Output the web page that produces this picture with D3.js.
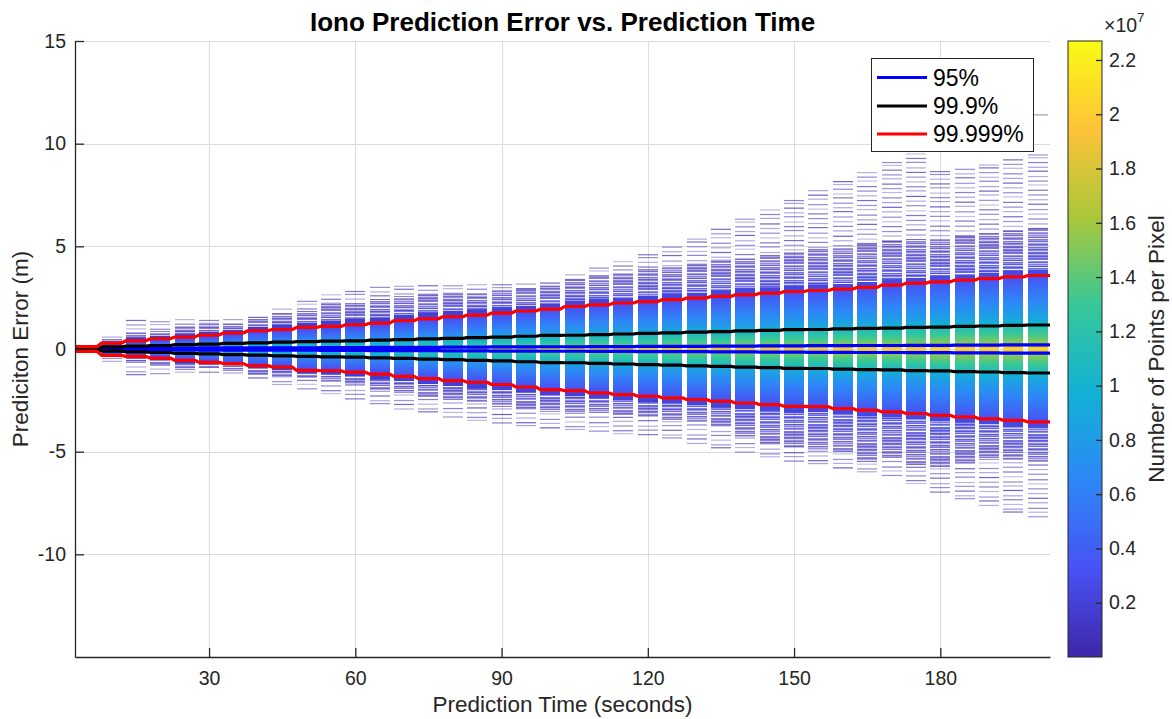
<!DOCTYPE html>
<html>
<head>
<meta charset="utf-8">
<script src="https://cdn.jsdelivr.net/npm/d3@7/dist/d3.min.js"></script>
<style>
  body { margin: 0; background: #fff; }
  svg text { font-family: "Liberation Sans", Arial, Helvetica, sans-serif; }
</style>
</head>
<body>
<script>
// prediction time bins (seconds)
const times = [5,10,15,20,25,30,35,40,45,50, 55,60,65,70,75,80,85,90,95,100,
               105,110,115,120,125,130,135,140,145,150, 155,160,165,170,175,180,185,190,195,200];

// percentile envelopes (m)
const p95 = [0.02,0.03,0.03,0.04,0.04,0.05,0.05,0.05,0.06,0.06, 0.07,0.07,0.08,0.08,0.08,0.09,0.09,0.10,0.10,0.11,
             0.11,0.12,0.12,0.13,0.13,0.13,0.14,0.14,0.15,0.15, 0.16,0.16,0.17,0.17,0.18,0.18,0.19,0.19,0.20,0.20];
const p999 = [0.05,0.10,0.14,0.17,0.21,0.24,0.27,0.30,0.33,0.36, 0.38,0.40,0.43,0.46,0.49,0.52,0.55,0.58,0.62,0.66,
              0.67,0.70,0.73,0.76,0.79,0.82,0.85,0.88,0.91,0.94, 0.95,0.98,1.00,1.02,1.05,1.07,1.10,1.12,1.15,1.17];
const p99999Up = [0.12,0.29,0.40,0.50,0.58,0.68,0.78,0.89,0.95,1.05, 1.10,1.18,1.26,1.38,1.47,1.57,1.65,1.75,1.85,1.94,
                  2.07,2.15,2.24,2.31,2.40,2.48,2.56,2.64,2.72,2.80, 2.85,2.92,3.00,3.11,3.21,3.27,3.35,3.43,3.51,3.58];
const p99999Lo = [-0.12,-0.31,-0.36,-0.44,-0.55,-0.65,-0.71,-0.81,-0.88,-1.04, -1.06,-1.13,-1.22,-1.33,-1.44,-1.54,-1.62,-1.73,-1.85,-1.98,
                  -2.03,-2.14,-2.22,-2.30,-2.38,-2.46,-2.54,-2.63,-2.71,-2.79, -2.81,-2.90,-2.98,-3.06,-3.14,-3.23,-3.31,-3.40,-3.48,-3.55];

// extent of the dense (striped) part of each column and of the sparse outliers (m)
const denseUp = [0.15,0.45,0.78,0.86,1.10,1.18,1.26,1.43,1.75,1.83, 2.16,2.24,2.40,2.56,2.72,2.64,2.72,2.88,2.88,3.05,
                 3.37,3.53,3.70,3.86,4.02,4.18,4.34,4.42,4.54,4.70, 4.83,4.91,5.07,5.23,5.32,5.40,5.48,5.64,5.72,5.83];
const denseLo = [-0.15,-0.44,-0.68,-0.76,-0.88,-0.92,-0.97,-1.25,-1.33,-1.41, -1.57,-1.69,-1.98,-2.14,-2.30,-2.46,-2.54,-2.79,-2.95,-3.03,
                 -3.03,-3.11,-3.19,-3.27,-3.44,-3.52,-3.76,-4.25,-4.65,-4.73, -4.89,-4.98,-5.46,-5.30,-5.62,-5.70,-5.54,-5.38,-5.38,-5.46];
const maxUp = [0.15,0.58,1.39,1.33,1.43,1.39,1.43,1.54,1.94,2.32, 2.64,2.80,3.00,3.05,3.08,3.08,3.13,3.13,3.16,3.21,
               3.61,3.94,4.26,4.59,4.96,5.35,5.83,6.32,6.77,7.23, 7.71,8.15,8.59,9.08,9.50,8.64,8.75,8.96,9.21,9.45];
const maxLo = [-0.15,-0.60,-1.25,-1.20,-1.13,-1.13,-1.17,-1.41,-1.73,-1.94, -2.17,-2.43,-2.66,-2.92,-3.06,-3.31,-3.47,-3.60,-3.73,-3.84,
               -3.92,-4.00,-4.12,-4.17,-4.33,-4.60,-4.81,-5.02,-5.25,-5.46, -5.58,-5.79,-5.98,-6.16,-6.55,-6.97,-7.29,-7.62,-7.94,-8.17];
const outlierT = [200];
const outlierE = [11.4];

// points per pixel at the centre of each column (x1e7)
const peak = [0.9,1.1,1.2,1.25,1.3,1.35,1.4,1.45,1.5,1.5, 1.55,1.6,1.6,1.65,1.7,1.7,1.75,1.8,1.8,1.85,
              1.85,1.9,1.9,1.9,1.95,1.95,1.95,2.0,2.0,2.0, 2.0,2.05,2.05,2.05,2.05,2.1,2.1,2.1,2.1,2.1];
// shape of a column: fraction of the centre count vs error / 99.999% bound
const profU =    [0, 0.03, 0.06, 0.15, 0.25, 0.33, 0.36, 0.5, 0.7, 0.9, 1.0];
const profFrac = [1, 0.88, 0.76, 0.67, 0.59, 0.52, 0.46, 0.38, 0.29, 0.2, 0.15];
// row pattern in the striped fringe and offsets (m) of the sparse outlier rows
const fringeAlpha = [0.9,0.6,1,0.8,0.4,1,0.85,0.3,0.7,1,0.5,0.9,0.1,0.75,1,0.6,0.25,0.95,0.65,0.85,0.1,1,0.5,0.75,0.35,0.9,0.65,0.05,0.85];
const sparseOffA = [0,0.22,0.41,0.68,0.9,1.13,1.36,1.6,1.8,2.07,2.3,2.52,2.77,3.0,3.24,3.45,3.7,3.95];
const sparseOffB = [0,0.14,0.37,0.6,0.79,1.05,1.27,1.46,1.72,1.95,2.18,2.4,2.66,2.88,3.12,3.36,3.58,3.82];
const sparseAlpha = [0.55,0.4,0.7,0.5,0.35,0.6,0.45,0.75,0.4,0.55,0.3,0.65];

const xTicks = [30,60,90,120,150,180];
const yTicks = [-10,-5,0,5,10,15];
const cTicks = [0.2,0.4,0.6,0.8,1,1.2,1.4,1.6,1.8,2,2.2];
const legendNames = ["95%", "99.9%", "99.999%"];
const legendColors = ["#0000ff", "#000000", "#ff0000"];

// parula colormap
const paruStops = [0, 1/7, 2/7, 3/7, 4/7, 5/7, 6/7, 1];
const paruColors = ["#3e26a8","#4852f4","#2d87f7","#12b1d6","#37c897","#abc739","#fec338","#f9fb15"];

const width = 1172, height = 719;
const plotL = 75, plotR = 1050, plotT = 41, plotB = 657;
const colHalf = 2.05;
const cmax = 2.27;
const ink = "#262626";
const font = '"Liberation Sans", Arial, sans-serif';

const svg = d3.select("body").append("svg")
  .attr("width", width)
  .attr("height", height);

const x = d3.scaleLinear().domain([2.5, 202.5]).range([plotL, plotR]);
const y = d3.scaleLinear().domain([-15, 15]).range([plotB, plotT]);
const parula = d3.scaleLinear().domain(paruStops).range(paruColors).clamp(true);
const color = v => parula(v / cmax);
const prof = d3.scaleLinear().domain(profU).range(profFrac).clamp(true);
const pxPerM = y(0) - y(1);

// grid
const grid = svg.append("g").attr("stroke", "#dcdcdc").attr("stroke-width", 1);
xTicks.forEach(t => grid.append("line")
  .attr("x1", Math.round(x(t)) + 0.5).attr("x2", Math.round(x(t)) + 0.5)
  .attr("y1", plotT).attr("y2", plotB));
yTicks.forEach(v => grid.append("line")
  .attr("x1", plotL).attr("x2", plotR)
  .attr("y1", Math.round(y(v)) + 0.5).attr("y2", Math.round(y(v)) + 0.5));

// 2-D histogram columns
const heat = svg.append("g").attr("shape-rendering", "crispEdges");
const sparse = svg.append("g");
const y0 = Math.round(y(0));

times.forEach((t, i) => {
  const xa = Math.round(x(t - colHalf)), xb = Math.round(x(t + colHalf));
  const sides = [
    {red: p99999Up[i], dense: denseUp[i], max: maxUp[i], dir: -1},
    {red: -p99999Lo[i], dense: -denseLo[i], max: -maxLo[i], dir: 1}
  ];
  sides.forEach((s, si) => {
    const fringe = d3.scaleLinear().domain([s.red, s.dense]).range([0.13 * peak[i], 0.05]).clamp(true);
    const fade = d3.scaleLinear().domain([s.red, s.dense]).range([1, 0.7]).clamp(true);
    const nRows = Math.ceil(s.dense * pxPerM);
    const redRow = Math.floor(s.red * pxPerM);
    const solidN = Math.min(6, 0.3 * (s.dense - s.red) * pxPerM);
    for (let k = 0; k < nRows; k++) {
      const a = (k + 0.5) / pxPerM;
      let fill, alpha = 1;
      if (a <= s.red) {
        fill = color(peak[i] * prof(a / s.red));
      } else {
        const kk = k - redRow;
        fill = color(fringe(a));
        if (kk >= solidN) alpha = fringeAlpha[(kk + i * 7 + si * 3) % fringeAlpha.length] * fade(a);
      }
      if (alpha <= 0) continue;
      heat.append("rect")
        .attr("x", xa).attr("width", xb - xa)
        .attr("y", s.dir < 0 ? y0 - k - 1 : y0 + k).attr("height", 1)
        .attr("fill", fill).attr("fill-opacity", alpha);
    }
    const offs = (i + si) % 2 ? sparseOffB : sparseOffA;
    offs.forEach((o, j) => {
      const e = s.max - o;
      if (e <= s.dense) return;
      sparse.append("rect")
        .attr("x", xa).attr("width", xb - xa)
        .attr("y", y(-s.dir * e) - 0.6).attr("height", 1.2)
        .attr("fill", color(0.06))
        .attr("fill-opacity", sparseAlpha[(j + i) % sparseAlpha.length]);
    });
  });
});
outlierT.forEach((t, j) => {
  sparse.append("rect")
    .attr("x", Math.round(x(t - colHalf))).attr("width", Math.round(x(t + colHalf)) - Math.round(x(t - colHalf)))
    .attr("y", y(outlierE[j]) - 0.6).attr("height", 1.2)
    .attr("fill", color(0.06)).attr("fill-opacity", 0.5);
});

// percentile stair lines
function stairs(vals) {
  const pts = [];
  times.forEach((t, i) => {
    pts.push([i === 0 ? 2.5 : t - colHalf, vals[i]]);
    pts.push([i === times.length - 1 ? 202.5 : t + colHalf, vals[i]]);
  });
  return pts;
}
const line = d3.line().x(d => x(d[0])).y(d => y(d[1]));
const series = [
  [p95, "#0000ff"], [p95.map(v => -v), "#0000ff"],
  [p999, "#000000"], [p999.map(v => -v), "#000000"],
  [p99999Up, "#ff0000"], [p99999Lo, "#ff0000"]
];
series.forEach(([vals, c]) => {
  svg.append("path")
    .attr("d", line(stairs(vals)))
    .attr("fill", "none")
    .attr("stroke", c)
    .attr("stroke-width", 3.2)
    .attr("stroke-linejoin", "round");
});

// axes (box off, ticks inward)
const plain = d => String(d);
const xAxis = svg.append("g")
  .attr("transform", `translate(0,${plotB})`)
  .call(d3.axisBottom(x).tickValues(xTicks).tickFormat(plain).tickSizeInner(-9).tickSizeOuter(0).tickPadding(14));
const yAxis = svg.append("g")
  .attr("transform", `translate(${plotL},0)`)
  .call(d3.axisLeft(y).tickValues(yTicks).tickFormat(plain).tickSizeInner(-9).tickSizeOuter(0).tickPadding(9));
[xAxis, yAxis].forEach(g => {
  g.attr("font-family", font);
  g.selectAll("path, line").attr("stroke", ink).attr("stroke-width", 1.3);
  g.selectAll("text").attr("fill", ink).attr("font-size", 19.5);
});

// titles
svg.append("text")
  .attr("x", (plotL + plotR) / 2).attr("y", 31)
  .attr("text-anchor", "middle").attr("font-size", 26).attr("font-weight", "bold")
  .attr("fill", "#000")
  .text("Iono Prediction Error vs. Prediction Time");
svg.append("text")
  .attr("x", (plotL + plotR) / 2).attr("y", 712)
  .attr("text-anchor", "middle").attr("font-size", 22.5).attr("fill", ink)
  .text("Prediction Time (seconds)");
svg.append("text")
  .attr("transform", `translate(28,${(plotT + plotB) / 2}) rotate(-90)`)
  .attr("text-anchor", "middle").attr("font-size", 22.5).attr("fill", ink)
  .text("Prediciton Error (m)");

// legend
const lg = svg.append("g");
lg.append("rect")
  .attr("x", 871.5).attr("y", 58.5).attr("width", 162).attr("height", 93)
  .attr("fill", "#fff").attr("stroke", ink).attr("stroke-width", 1);
legendNames.forEach((n, i) => {
  const ly = [77.5, 106, 134][i];
  lg.append("line")
    .attr("x1", 877).attr("x2", 927).attr("y1", ly).attr("y2", ly)
    .attr("stroke", legendColors[i]).attr("stroke-width", 3.2);
  lg.append("text")
    .attr("x", 933).attr("y", ly).attr("dy", "0.36em")
    .attr("font-size", 23).attr("fill", "#000")
    .text(n);
});

// colorbar
const cbX0 = 1068, cbX1 = 1102;
const cy = d3.scaleLinear().domain([0, cmax]).range([plotB, plotT]);
const defs = svg.append("defs");
const grad = defs.append("linearGradient").attr("id", "parula")
  .attr("x1", 0).attr("y1", 1).attr("x2", 0).attr("y2", 0);
paruStops.forEach((s, i) => grad.append("stop").attr("offset", s).attr("stop-color", paruColors[i]));
svg.append("rect")
  .attr("x", cbX0).attr("y", plotT).attr("width", cbX1 - cbX0).attr("height", plotB - plotT)
  .attr("fill", "url(#parula)").attr("stroke", ink).attr("stroke-width", 1);
const cAxis = svg.append("g")
  .attr("transform", `translate(${cbX1},0)`)
  .attr("font-family", font)
  .call(d3.axisRight(cy).tickValues(cTicks).tickFormat(d3.format("~g"))
    .tickSizeInner(-6).tickSizeOuter(0).tickPadding(7));
cAxis.select(".domain").remove();
cAxis.selectAll("line").attr("stroke", ink).attr("stroke-width", 1.3);
cAxis.selectAll("text").attr("fill", ink).attr("font-size", 19.5);

const exp = svg.append("text").attr("x", 1104).attr("y", 32).attr("fill", ink).attr("font-size", 19.5);
exp.append("tspan").text("\u00d710");
exp.append("tspan").attr("dy", -10).attr("font-size", 13.5).text("7");

svg.append("text")
  .attr("transform", `translate(1164,${(plotT + plotB) / 2}) rotate(-90)`)
  .attr("text-anchor", "middle").attr("font-size", 22.5).attr("fill", ink)
  .text("Number of Points per Pixel");
</script>
</body>
</html>
